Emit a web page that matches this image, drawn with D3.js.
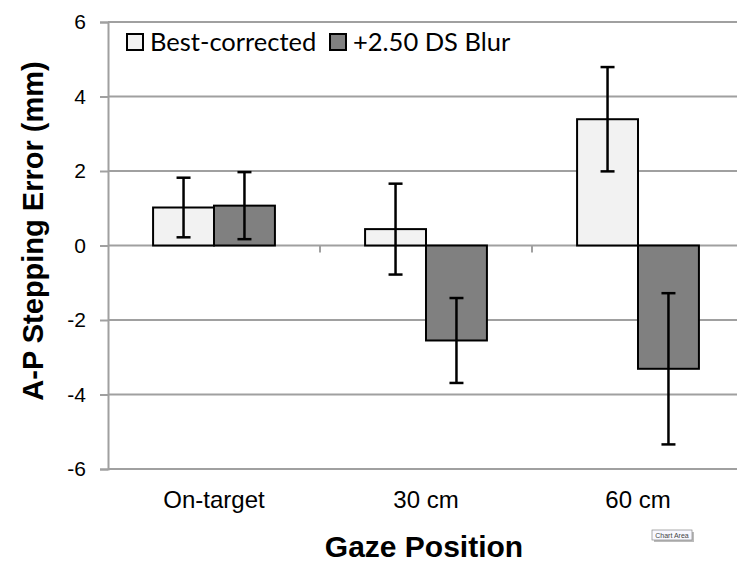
<!DOCTYPE html>
<html>
<head>
<meta charset="utf-8">
<script src="https://cdn.jsdelivr.net/npm/d3@7"></script>
<style>
  body { margin: 0; background: #fff; }
  svg { display: block; }
</style>
</head>
<body>
<svg id="chart" width="737" height="562"></svg>
<script>
// Stepping error by gaze position

const categories = ['On-target', '30 cm', '60 cm'];
const seriesNames = ['Best-corrected', '+2.50 DS Blur'];
const bestCorrected = [1.02, 0.44, 3.39];
const blur = [1.07, -2.55, -3.31];
const bestErr = [0.8, 1.22, 1.4];
const blurErr = [0.9, 1.14, 2.03];
const yTicks = [-6, -4, -2, 0, 2, 4, 6];

const colors = ['#f2f2f2', '#808080'];

const svg = d3.select('#chart');

const margin = { left: 108, top: 22 };
const plotW = 636, plotH = 447;

const x = d3.scaleBand()
  .domain(categories)
  .range([margin.left, margin.left + plotW]);

const xSeries = d3.scaleBand()
  .domain(seriesNames)
  .range([0, x.bandwidth()])
  .paddingOuter(0.74)
  .paddingInner(0);

const y = d3.scaleLinear()
  .domain([-6, 6])
  .range([margin.top + plotH, margin.top]);

// gridlines
svg.append('g')
  .selectAll('line')
  .data(yTicks)
  .join('line')
    .attr('x1', margin.left)
    .attr('x2', margin.left + plotW)
    .attr('y1', d => y(d))
    .attr('y2', d => y(d))
    .attr('stroke', '#a0a0a0')
    .attr('stroke-width', 2);

// y axis
const yAxis = svg.append('g')
  .attr('transform', `translate(${margin.left},0)`)
  .call(d3.axisLeft(y).tickValues(yTicks).tickSize(8).tickPadding(14).tickFormat(d => String(d)));
yAxis.select('.domain').attr('stroke', '#a0a0a0').attr('stroke-width', 2);
yAxis.selectAll('.tick line').attr('stroke', '#a0a0a0').attr('stroke-width', 2);
yAxis.selectAll('.tick text')
  .attr('font-family', 'Liberation Sans, Arial, sans-serif')
  .attr('font-size', 21)
  .attr('fill', '#000');

// x ticks hanging from the zero line
svg.append('g')
  .selectAll('line')
  .data(categories.slice(1).concat(['end']))
  .join('line')
    .attr('x1', (d, i) => margin.left + x.step() * (i + 1))
    .attr('x2', (d, i) => margin.left + x.step() * (i + 1))
    .attr('y1', y(0))
    .attr('y2', y(0) + 7)
    .attr('stroke', '#a0a0a0')
    .attr('stroke-width', 2);

// bars
const rows = categories.map((c, i) => ({
  cat: c,
  vals: [
    { s: seriesNames[0], v: bestCorrected[i], e: bestErr[i], col: colors[0] },
    { s: seriesNames[1], v: blur[i], e: blurErr[i], col: colors[1] }
  ]
}));

const groups = svg.append('g')
  .selectAll('g')
  .data(rows)
  .join('g')
    .attr('transform', d => `translate(${x(d.cat)},0)`);

groups.selectAll('rect')
  .data(d => d.vals)
  .join('rect')
    .attr('x', d => xSeries(d.s))
    .attr('y', d => y(Math.max(0, d.v)))
    .attr('width', xSeries.bandwidth())
    .attr('height', d => Math.abs(y(d.v) - y(0)))
    .attr('fill', d => d.col)
    .attr('stroke', '#000')
    .attr('stroke-width', 2);

// error bars
const eb = groups.selectAll('g.err')
  .data(d => d.vals)
  .join('g')
    .attr('class', 'err')
    .attr('transform', d => `translate(${xSeries(d.s) + xSeries.bandwidth() / 2},0)`);

eb.append('line')
  .attr('y1', d => y(d.v + d.e))
  .attr('y2', d => y(d.v - d.e))
  .attr('stroke', '#000').attr('stroke-width', 2.5);
eb.append('line')
  .attr('x1', -7).attr('x2', 7)
  .attr('y1', d => y(d.v + d.e)).attr('y2', d => y(d.v + d.e))
  .attr('stroke', '#000').attr('stroke-width', 2.5);
eb.append('line')
  .attr('x1', -7).attr('x2', 7)
  .attr('y1', d => y(d.v - d.e)).attr('y2', d => y(d.v - d.e))
  .attr('stroke', '#000').attr('stroke-width', 2.5);

// category labels
svg.append('g')
  .selectAll('text')
  .data(categories)
  .join('text')
    .attr('x', d => x(d) + x.bandwidth() / 2)
    .attr('y', 508)
    .attr('text-anchor', 'middle')
    .attr('font-family', 'Liberation Sans, Arial, sans-serif')
    .attr('font-size', 24)
    .text(d => d);

// axis titles
svg.append('text')
  .attr('x', 424)
  .attr('y', 557)
  .attr('text-anchor', 'middle')
  .attr('font-family', 'Liberation Sans, Arial, sans-serif')
  .attr('font-weight', 'bold')
  .attr('font-size', 30)
  .text('Gaze Position');

svg.append('text')
  .attr('transform', 'translate(43,231) rotate(-90)')
  .attr('text-anchor', 'middle')
  .attr('font-family', 'Liberation Sans, Arial, sans-serif')
  .attr('font-weight', 'bold')
  .attr('font-size', 29)
  .text('A-P Stepping Error (mm)');

// legend
const legX = [127, 330];
const leg = svg.append('g')
  .selectAll('g')
  .data(seriesNames)
  .join('g')
    .attr('transform', (d, i) => `translate(${legX[i]},34)`);
leg.append('rect')
  .attr('width', 16).attr('height', 16)
  .attr('fill', (d, i) => colors[i])
  .attr('stroke', '#000').attr('stroke-width', 2);
leg.append('text')
  .attr('x', 23).attr('y', 17)
  .attr('font-family', 'Lato, Open Sans, sans-serif')
  .attr('font-size', 25.5)
  .text(d => d);

// little "Chart Area" hover tag from the original screenshot
const tag = svg.append('g').attr('transform', 'translate(652,530)');
tag.append('rect').attr('x', 2).attr('y', 2).attr('width', 40).attr('height', 10).attr('fill', '#bbb');
tag.append('rect').attr('width', 40).attr('height', 10).attr('fill', '#f8f8ff').attr('stroke', '#888').attr('stroke-width', 0.7);
tag.append('text').attr('x', 20).attr('y', 7.5).attr('text-anchor', 'middle')
  .attr('font-family', 'Liberation Sans, Arial, sans-serif').attr('font-size', 7).attr('fill', '#444')
  .text('Chart Area');
</script>
</body>
</html>
